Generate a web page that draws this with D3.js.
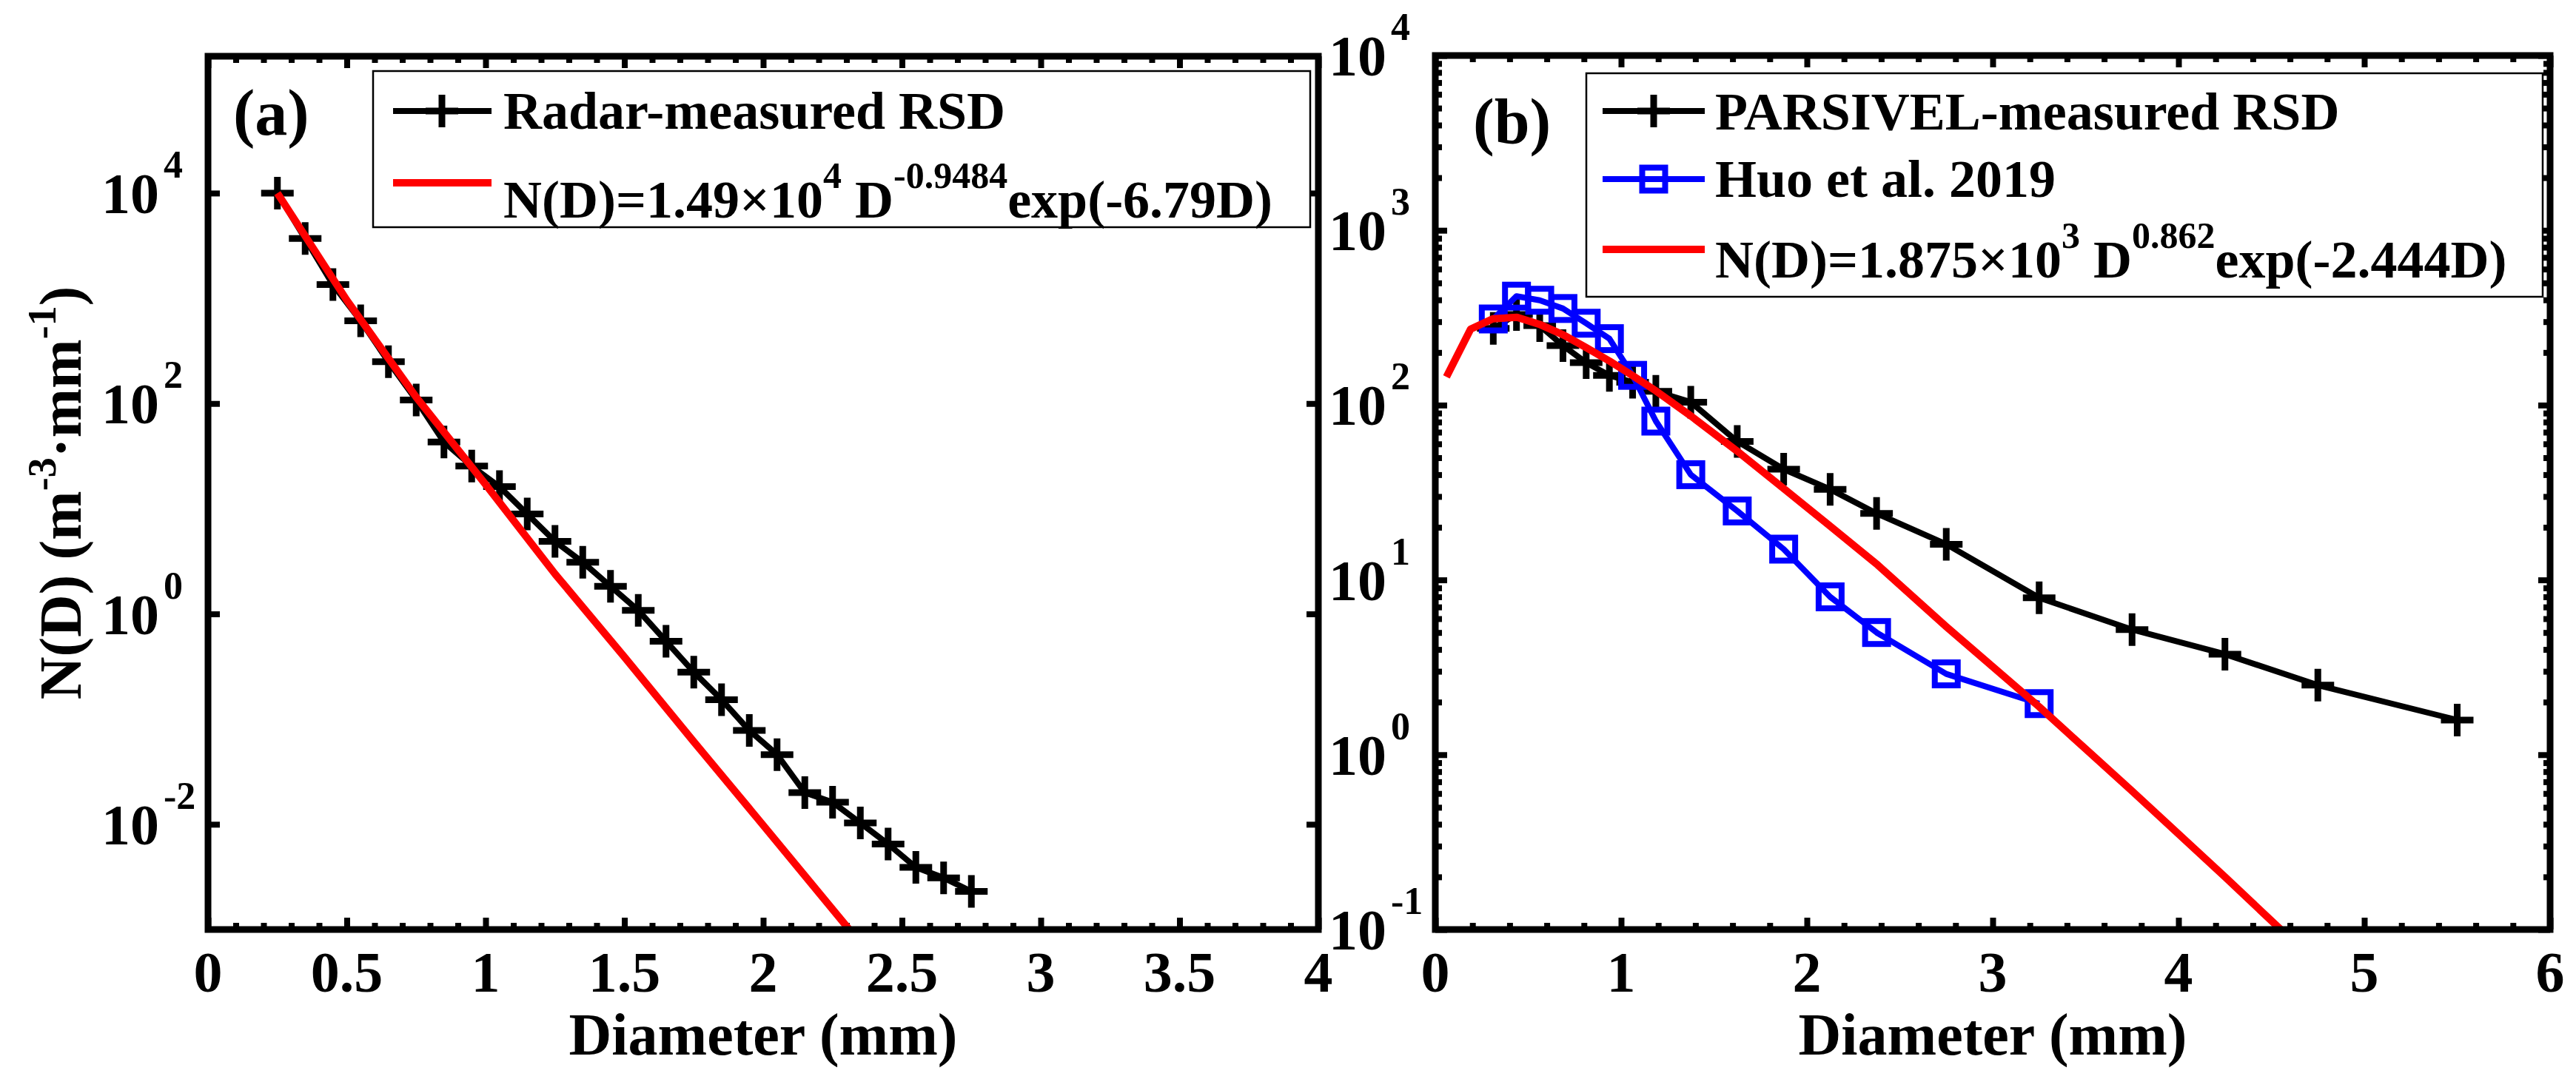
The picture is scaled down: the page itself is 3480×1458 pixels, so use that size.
<!DOCTYPE html>
<html>
<head>
    <meta charset="utf-8" />
    <script src="https://cdn.jsdelivr.net/npm/d3@7"></script>
    <title></title>
    <style>
        body { margin: 0; background: #fff; }
        text { font-family: "Liberation Serif", "Times New Roman", serif; font-weight: bold; fill: #000; }
    </style>
</head>
<body>
    <script>
        // (a) radar retrieved RSD and its gamma fit
        var radarD = [0.25, 0.35, 0.45, 0.55, 0.65, 0.75, 0.85, 0.95, 1.05, 1.15, 1.25, 1.35, 1.45,
                      1.55, 1.65, 1.75, 1.85, 1.95, 2.05, 2.15, 2.25, 2.35, 2.45, 2.55, 2.65, 2.75];
        var radarN = [1.0e4, 3.7e3, 1.35e3, 610, 250, 108, 43, 25.4, 16.2, 8.9, 4.9, 3.1, 1.83,
                      1.08, 0.55, 0.28, 0.153, 0.078, 0.046, 0.020, 0.0162, 0.0103, 0.0065, 0.0039, 0.0031, 0.0023];
        var fitAD = [0.25, 0.5, 0.75, 1.0, 1.25, 1.5, 1.75, 2.0, 2.31];
        var fitAN = [1.0e4, 960, 115, 17, 2.4, 0.39, 0.061, 0.0098, 0.001];

        // (b) PARSIVEL, Huo et al. 2019 and gamma fit
        var parsD = [0.312, 0.437, 0.562, 0.687, 0.812, 0.937, 1.062, 1.187, 1.375, 1.625, 1.875,
                     2.125, 2.375, 2.75, 3.25, 3.75, 4.25, 4.75, 5.5];
        var parsN = [275, 330, 285, 219, 175, 148, 135, 120, 104, 62, 43, 33, 24, 16, 7.9, 5.2, 3.76, 2.5, 1.58];
        var huoD = [0.312, 0.437, 0.562, 0.687, 0.812, 0.937, 1.062, 1.187, 1.375, 1.625, 1.875,
                    2.125, 2.375, 2.75, 3.25];
        var huoN = [311, 420, 398, 357, 294, 240, 148, 81, 40, 24.8, 15, 8.0, 5.0, 2.9, 1.96];
        var fitBD = [0.06, 0.19, 0.31, 0.44, 0.56, 0.69, 0.81, 0.94, 1.06, 1.19, 1.38, 1.62, 1.88,
                     2.12, 2.38, 2.75, 3.25, 3.75, 4.25, 4.55];
        var fitBN = [145, 272, 312, 318, 290, 252, 214, 178, 148, 120, 86, 55, 33, 20.5, 12.2, 5.4, 1.88, 0.62, 0.20, 0.10];

        // ticks
        var xTicksA = [0, 0.5, 1, 1.5, 2, 2.5, 3, 3.5, 4];
        var xLabelsA = ["0", "0.5", "1", "1.5", "2", "2.5", "3", "3.5", "4"];
        var yTicksA = [1e-2, 1, 1e2, 1e4];
        var yExpA = ["-2", "0", "2", "4"];
        var xTicksB = [0, 1, 2, 3, 4, 5, 6];
        var xLabelsB = ["0", "1", "2", "3", "4", "5", "6"];
        var yTicksB = [1e-1, 1, 1e1, 1e2, 1e3, 1e4];
        var yExpB = ["-1", "0", "1", "2", "3", "4"];

        var svgWidth = 3480,
            svgHeight = 1458,
            majorLen = 16,
            minorLen = 9;

        var svg = d3.select("body").append("svg")
            .attr("width", svgWidth)
            .attr("height", svgHeight);

        var xA = d3.scaleLinear().domain([0, 4]).range([281, 1781]);
        var yA = d3.scaleLog().domain([1e-3, 2e5]).range([1256, 76]);
        var xB = d3.scaleLinear().domain([0, 6]).range([1939, 3445]);
        var yB = d3.scaleLog().domain([0.1, 1e4]).range([1256, 75]);

        var minorA = d3.range(0, 4.001, 0.1).filter(function(d) { return Math.abs(d * 2 - Math.round(d * 2)) > 0.01; });
        var minorB = d3.range(0, 6.001, 0.2).filter(function(d) { return Math.abs(d - Math.round(d)) > 0.01; });
        var logMinorB = [];
        for (var e = -1; e < 4; e++) {
            for (var k = 2; k < 10; k++) logMinorB.push(k * Math.pow(10, e));
        }

        var gA = svg.append("g");
        var gB = svg.append("g");

        // ---------- panel (a) ----------
        addClip("clipA", xA, yA);
        drawTicks(gA, xA, yA, xTicksA, minorA, yTicksA, []);

        var plotA = gA.append("g").attr("clip-path", "url(#clipA)");
        plotA.append("path")
            .datum(d3.zip(radarD, radarN))
            .attr("fill", "none").attr("stroke", "#000").attr("stroke-width", 8)
            .attr("stroke-linejoin", "round")
            .attr("d", d3.line().x(function(d) { return xA(d[0]); }).y(function(d) { return yA(d[1]); }));
        plotA.selectAll(".plusA")
            .data(d3.zip(radarD, radarN))
            .enter().append("path")
            .attr("class", "plusA")
            .attr("d", plusPath(22))
            .attr("stroke", "#000").attr("stroke-width", 9).attr("fill", "none")
            .attr("transform", function(d) { return "translate(" + xA(d[0]) + "," + yA(d[1]) + ")"; });
        plotA.append("path")
            .datum(d3.zip(fitAD, fitAN))
            .attr("fill", "none").attr("stroke", "#ff0000").attr("stroke-width", 10)
            .attr("stroke-linejoin", "round")
            .attr("d", d3.line().x(function(d) { return xA(d[0]); }).y(function(d) { return yA(d[1]); }));

        drawFrame(gA, xA, yA);
        xTickLabels(gA, xA, xTicksA, xLabelsA);
        yTickLabels(gA, xA, yA, yTicksA, yExpA);

        gA.append("text")
            .attr("x", 315).attr("y", 182)
            .style("font-size", "88px")
            .text("(a)");

        // legend (a)
        gA.append("rect")
            .attr("x", 504).attr("y", 96).attr("width", 1266).attr("height", 211)
            .attr("fill", "#fff").attr("stroke", "#000").attr("stroke-width", 2.5);
        gA.append("line")
            .attr("x1", 531).attr("x2", 664).attr("y1", 150).attr("y2", 150)
            .attr("stroke", "#000").attr("stroke-width", 8);
        gA.append("path")
            .attr("d", plusPath(22)).attr("stroke", "#000").attr("stroke-width", 9)
            .attr("transform", "translate(597,150)");
        gA.append("text")
            .attr("x", 680).attr("y", 174)
            .style("font-size", "72px")
            .text("Radar-measured RSD");
        gA.append("line")
            .attr("x1", 531).attr("x2", 664).attr("y1", 247).attr("y2", 247)
            .attr("stroke", "#ff0000").attr("stroke-width", 10);
        fitText(gA, 680, 294, "N(D)=1.49\u00d710", "4", " D", "-0.9484", "exp(-6.79D)");

        gA.append("text")
            .attr("x", 1031).attr("y", 1425)
            .attr("text-anchor", "middle")
            .style("font-size", "80px")
            .text("Diameter (mm)");

        var yLab = gA.append("text")
            .attr("transform", "translate(109,666) rotate(-90)")
            .attr("text-anchor", "middle")
            .style("font-size", "80px");
        yLab.append("tspan").text("N(D) (m");
        yLab.append("tspan").attr("dy", -34).style("font-size", "54px").text("-3");
        yLab.append("tspan").attr("dy", 34).text("\u00b7mm");
        yLab.append("tspan").attr("dy", -34).style("font-size", "54px").text("-1");
        yLab.append("tspan").attr("dy", 34).text(")");

        // ---------- panel (b) ----------
        addClip("clipB", xB, yB);
        drawTicks(gB, xB, yB, xTicksB, minorB, yTicksB, logMinorB);

        var plotB = gB.append("g").attr("clip-path", "url(#clipB)");
        plotB.append("path")
            .datum(d3.zip(parsD, parsN))
            .attr("fill", "none").attr("stroke", "#000").attr("stroke-width", 8)
            .attr("stroke-linejoin", "round")
            .attr("d", d3.line().x(function(d) { return xB(d[0]); }).y(function(d) { return yB(d[1]); }));
        plotB.selectAll(".plusB")
            .data(d3.zip(parsD, parsN))
            .enter().append("path")
            .attr("class", "plusB")
            .attr("d", plusPath(22))
            .attr("stroke", "#000").attr("stroke-width", 9).attr("fill", "none")
            .attr("transform", function(d) { return "translate(" + xB(d[0]) + "," + yB(d[1]) + ")"; });
        plotB.append("path")
            .datum(d3.zip(huoD, huoN))
            .attr("fill", "none").attr("stroke", "#0000ff").attr("stroke-width", 8)
            .attr("stroke-linejoin", "round")
            .attr("d", d3.line().x(function(d) { return xB(d[0]); }).y(function(d) { return yB(d[1]); }));
        plotB.selectAll(".sqB")
            .data(d3.zip(huoD, huoN))
            .enter().append("rect")
            .attr("class", "sqB")
            .attr("x", function(d) { return xB(d[0]) - 15.5; })
            .attr("y", function(d) { return yB(d[1]) - 15.5; })
            .attr("width", 31).attr("height", 31)
            .attr("fill", "none").attr("stroke", "#0000ff").attr("stroke-width", 8);
        plotB.append("path")
            .datum(d3.zip(fitBD, fitBN))
            .attr("fill", "none").attr("stroke", "#ff0000").attr("stroke-width", 10)
            .attr("stroke-linejoin", "round")
            .attr("d", d3.line().x(function(d) { return xB(d[0]); }).y(function(d) { return yB(d[1]); }));

        drawFrame(gB, xB, yB);
        xTickLabels(gB, xB, xTicksB, xLabelsB);
        yTickLabels(gB, xB, yB, yTicksB, yExpB);

        gB.append("text")
            .attr("x", 1990).attr("y", 193)
            .style("font-size", "86px")
            .text("(b)");

        // legend (b)
        gB.append("rect")
            .attr("x", 2143).attr("y", 99).attr("width", 1292).attr("height", 302)
            .attr("fill", "#fff").attr("stroke", "#000").attr("stroke-width", 2.5);
        gB.append("line")
            .attr("x1", 2165).attr("x2", 2303).attr("y1", 150).attr("y2", 150)
            .attr("stroke", "#000").attr("stroke-width", 8);
        gB.append("path")
            .attr("d", plusPath(22)).attr("stroke", "#000").attr("stroke-width", 9)
            .attr("transform", "translate(2234,150)");
        gB.append("text")
            .attr("x", 2317).attr("y", 175)
            .style("font-size", "72px")
            .text("PARSIVEL-measured RSD");
        gB.append("line")
            .attr("x1", 2165).attr("x2", 2303).attr("y1", 242).attr("y2", 242)
            .attr("stroke", "#0000ff").attr("stroke-width", 8);
        gB.append("rect")
            .attr("x", 2234 - 15.5).attr("y", 242 - 15.5).attr("width", 31).attr("height", 31)
            .attr("fill", "none").attr("stroke", "#0000ff").attr("stroke-width", 8);
        gB.append("text")
            .attr("x", 2317).attr("y", 266)
            .style("font-size", "72px")
            .text("Huo et al. 2019");
        gB.append("line")
            .attr("x1", 2165).attr("x2", 2303).attr("y1", 337).attr("y2", 337)
            .attr("stroke", "#ff0000").attr("stroke-width", 10);
        fitText(gB, 2317, 375, "N(D)=1.875\u00d710", "3", " D", "0.862", "exp(-2.444D)");

        gB.append("text")
            .attr("x", 2692).attr("y", 1425)
            .attr("text-anchor", "middle")
            .style("font-size", "80px")
            .text("Diameter (mm)");

        function plusPath(r) {
            return "M" + (-r) + ",0H" + r + "M0," + (-r) + "V" + r;
        }

        function addClip(id, x, y) {
            svg.append("clipPath").attr("id", id)
                .append("rect")
                .attr("x", x.range()[0]).attr("y", y.range()[1])
                .attr("width", x.range()[1] - x.range()[0])
                .attr("height", y.range()[0] - y.range()[1]);
        }

        function styleAxis(sel) {
            sel.select(".domain").remove();
            sel.selectAll(".tick line").attr("stroke", "#000").attr("stroke-width", 8);
        }

        // inward ticks on all four sides, like a boxed matlab axes
        function drawTicks(g, x, y, xMajor, xMinor, yMajor, yMinor) {
            var x0 = x.range()[0], x1 = x.range()[1], y0 = y.range()[0], y1 = y.range()[1];
            var sides = [
                [d3.axisBottom, x, "translate(0," + y0 + ")"],
                [d3.axisTop, x, "translate(0," + y1 + ")"],
                [d3.axisLeft, y, "translate(" + x0 + ",0)"],
                [d3.axisRight, y, "translate(" + x1 + ",0)"]
            ];
            sides.forEach(function(s, i) {
                var isX = i < 2;
                g.append("g").attr("transform", s[2])
                    .call(s[0](s[1]).tickValues(isX ? xMinor : yMinor).tickSize(-minorLen).tickFormat(""))
                    .call(styleAxis);
                g.append("g").attr("transform", s[2])
                    .call(s[0](s[1]).tickValues(isX ? xMajor : yMajor).tickSize(-majorLen).tickFormat(""))
                    .call(styleAxis);
            });
        }

        function drawFrame(g, x, y) {
            g.append("rect")
                .attr("x", x.range()[0]).attr("y", y.range()[1])
                .attr("width", x.range()[1] - x.range()[0])
                .attr("height", y.range()[0] - y.range()[1])
                .attr("fill", "none").attr("stroke", "#000").attr("stroke-width", 9);
        }

        function xTickLabels(g, x, ticks, labels) {
            g.selectAll(null)
                .data(ticks)
                .enter().append("text")
                .attr("x", function(d) { return x(d); })
                .attr("y", 1340)
                .attr("text-anchor", "middle")
                .style("font-size", "78px")
                .text(function(d, i) { return labels[i]; });
        }

        function yTickLabels(g, x, y, ticks, exps) {
            var ax = x.range()[0];
            var lab = g.selectAll(null).data(ticks).enter();
            lab.append("text")
                .attr("x", ax - 66)
                .attr("y", function(d) { return y(d) + 27; })
                .attr("text-anchor", "end")
                .style("font-size", "78px")
                .text("10");
            lab.append("text")
                .attr("x", ax - 60)
                .attr("y", function(d) { return y(d) - 21; })
                .style("font-size", "52px")
                .text(function(d, i) { return exps[i]; });
        }

        function fitText(g, x, y, a, s1, b, s2, c) {
            var t = g.append("text").attr("x", x).attr("y", y).style("font-size", "72px");
            t.append("tspan").text(a);
            t.append("tspan").attr("dy", -40).style("font-size", "50px").text(s1);
            t.append("tspan").attr("dy", 40).text(b);
            t.append("tspan").attr("dy", -40).style("font-size", "50px").text(s2);
            t.append("tspan").attr("dy", 40).text(c);
        }
    </script>
</body>
</html>
